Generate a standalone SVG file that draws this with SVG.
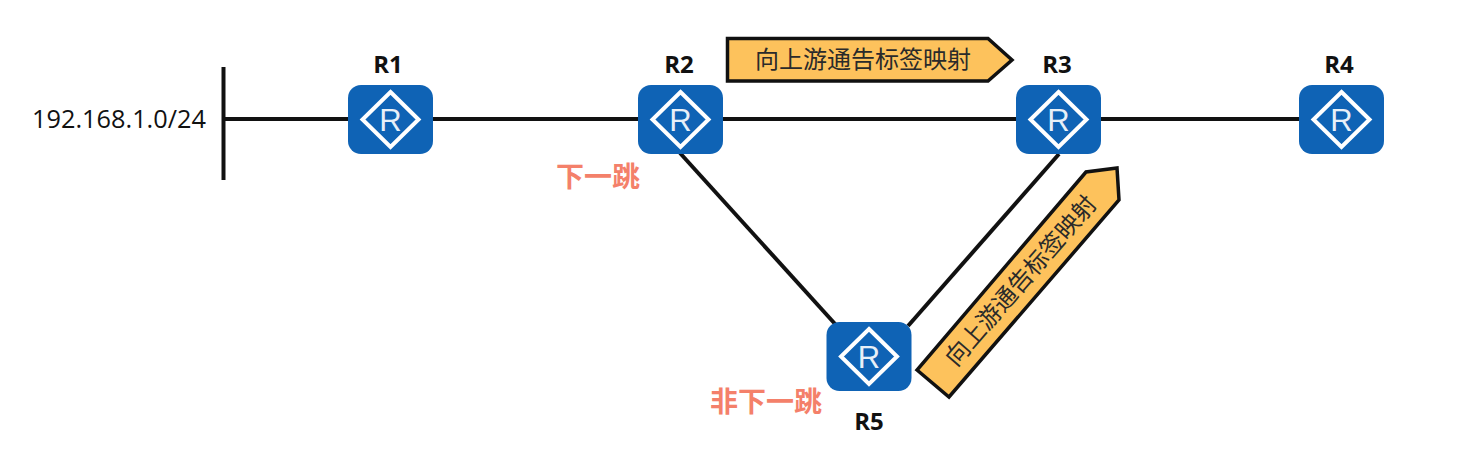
<svg xmlns="http://www.w3.org/2000/svg" xmlns:xlink="http://www.w3.org/1999/xlink" width="1459" height="449" viewBox="0 0 1459 449">
<style>
.l{stroke:#111;stroke-width:4;fill:none;stroke-linecap:butt}
.n{font-family:"Open Sans","Noto Sans",sans-serif;font-size:24px;font-weight:700;fill:#111;text-anchor:middle}
.a{fill:#fdc25c;stroke:#111;stroke-width:3.500;stroke-linejoin:miter}
.c{font-family:"Noto Sans CJK SC",sans-serif;font-size:24px;fill:#2a2a2a;text-anchor:middle}
.r{font-family:"Noto Sans CJK SC",sans-serif;font-size:28px;font-weight:700;fill:#f4806a;text-anchor:middle}
</style>
<defs>
<g id="router">
<rect x="-42.500" y="-34.500" width="85" height="69" rx="13" fill="#0f63b5"/>
<polygon points="0,-27.500 28,0 0,27.500 -28,0" fill="none" stroke="#fff" stroke-width="4"/>
<text x="0" y="11" font-family="Liberation Sans,sans-serif" font-size="31" fill="#e8f0f8" text-anchor="middle">R</text>
</g>
</defs>
<rect width="1459" height="449" fill="#fff"/>
<g id="connectors">
<path class="l" d="M223.500 67V180"/>
<path class="l" d="M224 119H1300"/>
<path class="l" d="M680 153L836 325"/>
<path class="l" d="M1059 154L908 326"/>
</g>
<g id="network-label"><text x="119" y="128" font-size="25.300" text-anchor="middle" fill="#111" font-family="Open Sans,sans-serif">192.168.1.0/24</text></g>
<g id="R1"><use href="#router" x="390.500" y="119.500"/><text class="n" x="388" y="73">R1</text></g>
<g id="R2"><use href="#router" x="680.500" y="119.500"/><text class="n" x="679" y="73">R2</text></g>
<g id="R3"><use href="#router" x="1058.500" y="119.500"/><text class="n" x="1057" y="73">R3</text></g>
<g id="R4"><use href="#router" x="1341.500" y="119.500"/><text class="n" x="1339" y="73">R4</text></g>
<g id="R5"><use href="#router" x="869" y="356.500"/><text class="n" x="869" y="430">R5</text></g>
<g id="arrow-top">
<polygon class="a" points="727.500,38.500 988,38.500 1012,60 988,81 727.500,81"/>
<text class="c" x="863" y="68">向上游通告标签映射</text>
</g>
<g id="arrow-diag">
<polygon class="a" points="917,370 949,397 1119,200 1117,168 1086,172"/>
<text class="c" transform="translate(1021 281) rotate(-49)" x="0" y="8">向上游通告标签映射</text>
</g>
<g id="label-next-hop"><text class="r" x="598" y="187">下一跳</text></g>
<g id="label-non-next-hop"><text class="r" x="766" y="412">非下一跳</text></g>
</svg>
